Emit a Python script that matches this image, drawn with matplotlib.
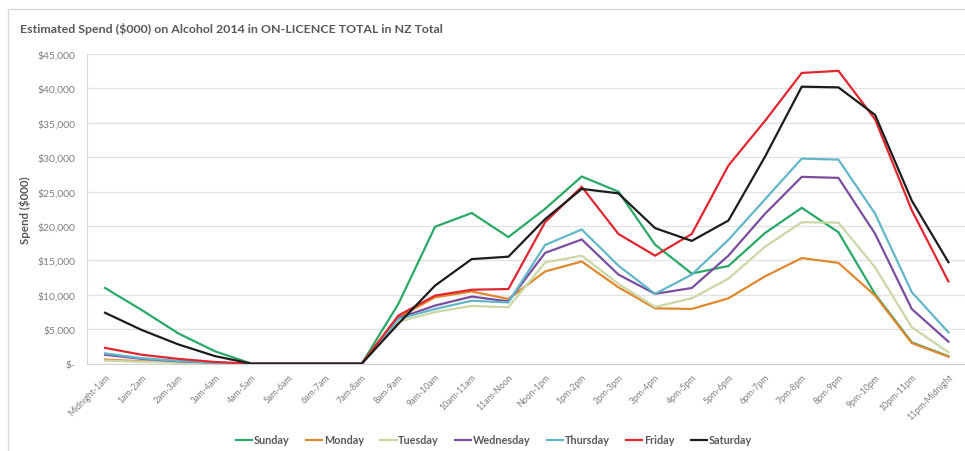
import matplotlib
matplotlib.use("Agg")
import matplotlib.pyplot as plt
from matplotlib.patches import Rectangle
from matplotlib.ticker import FuncFormatter, MultipleLocator

plt.rcParams['font.family'] = ['Lato', 'DejaVu Sans']

hours = ["Midnight-1am", "1am-2am", "2am-3am", "3am-4am", "4am-5am", "5am-6am",
         "6am-7am", "7am-8am", "8am-9am", "9am-10am", "10am-11am", "11am-Noon",
         "Noon-1pm", "1pm-2pm", "2pm-3pm", "3pm-4pm", "4pm-5pm", "5pm-6pm",
         "6pm-7pm", "7pm-8pm", "8pm-9pm", "9pm-10pm", "10pm-11pm", "11pm-Midnight"]

sunday = [11000, 7800, 4400, 1800, 0, 0, 0, 0, 8700, 19900, 21900, 18400,
          22500, 27200, 25000, 17300, 13100, 14200, 19000, 22650, 19100, 10100, 3100, 1080]
monday = [600, 350, 200, 80, 0, 0, 0, 0, 6700, 9650, 10500, 9400,
          13400, 14850, 11100, 8050, 7950, 9500, 12700, 15350, 14650, 9900, 3000, 1030]
tuesday = [450, 280, 150, 60, 0, 0, 0, 0, 6100, 7500, 8400, 8200,
           14700, 15700, 11600, 8250, 9500, 12350, 17000, 20550, 20500, 14000, 5300, 1650]
wednesday = [1300, 700, 350, 150, 0, 0, 0, 0, 6600, 8450, 9750, 9050,
             16100, 18050, 12950, 10150, 11000, 15700, 21800, 27150, 27000, 18880, 7950, 3200]
thursday = [1500, 800, 400, 150, 0, 0, 0, 0, 6500, 7950, 9150, 8900,
            17250, 19500, 14250, 10150, 12950, 18000, 23900, 29800, 29650, 21800, 10400, 4550]
friday = [2300, 1300, 700, 250, 0, 0, 0, 0, 7000, 9900, 10750, 10850,
          20550, 25700, 18850, 15700, 18850, 28800, 35300, 42250, 42550, 35500, 22300, 11950]
saturday = [7400, 4900, 2800, 1100, 0, 0, 0, 0, 5800, 11350, 15200, 15550,
            21000, 25400, 24750, 19700, 17850, 20800, 30100, 40250, 40150, 36150, 23700, 14750]

series = [
    ("Sunday", sunday, "#2aa866"),
    ("Monday", monday, "#e0882e"),
    ("Tuesday", tuesday, "#c9d8a6"),
    ("Wednesday", wednesday, "#7a4e9e"),
    ("Thursday", thursday, "#62b6c9"),
    ("Friday", friday, "#e0272f"),
    ("Saturday", saturday, "#1c1c1c"),
]

W, H = 965, 452
fig = plt.figure(figsize=(W / 100, H / 100), dpi=100)

# light outer chart frame
fig.patches.append(Rectangle((8 / W, -0.05), 1.2, 1 - 10 / H + 0.05,
                             transform=fig.transFigure, fill=False,
                             edgecolor="#d9d9d9", linewidth=1.0))

left, right, top, bottom = 86.7, 965, 55, 364.7
ax = fig.add_axes([left / W, 1 - bottom / H, (right - left) / W, (bottom - top) / H])

step = 36.67
x = list(range(len(hours)))
for name, vals, color in series:
    ax.plot(x, vals, color=color, linewidth=1.6, label=name, solid_joinstyle="miter")

ax.set_xlim(-0.5, -0.5 + (right - left) / step)
ax.set_ylim(0, 45000)
ax.yaxis.set_major_locator(MultipleLocator(5000))
ax.yaxis.set_major_formatter(FuncFormatter(lambda v, p: "$-" if v == 0 else f"${v:,.0f}"))
ax.grid(axis="y", color="#e4e4e4", linewidth=1.0)
ax.set_axisbelow(True)

for s in ["top", "right"]:
    ax.spines[s].set_visible(False)
ax.spines["left"].set_color("#d9d9d9")
ax.spines["bottom"].set_color("#d0d0d0")

ax.set_xticks(x)
ax.set_xticklabels(hours, rotation=45, ha="right", rotation_mode="anchor",
                   fontsize=6.3, color="#7f7f7f")
ax.tick_params(axis="x", length=0, pad=6)
ax.tick_params(axis="y", length=0, pad=8, labelsize=7.5, labelcolor="#7f7f7f")

ax.set_ylabel("Spend ($000)", fontsize=8.3, fontweight="bold", color="#595959", labelpad=5)

fig.text(20 / W, 1 - 29 / H, "Estimated Spend ($000) on Alcohol 2014 in ON-LICENCE TOTAL in NZ Total",
         fontsize=8.9, fontweight="bold", color="#595959", va="center", ha="left")

leg = fig.legend(loc="center", bbox_to_anchor=(494 / W, 1 - 441 / H), ncol=7,
                 frameon=False, handlelength=1.5, handletextpad=0.15,
                 columnspacing=1.5, prop={"size": 7.8, "weight": "bold"})
for t in leg.get_texts():
    t.set_color("#595959")

fig.savefig("out.png", dpi=100)
